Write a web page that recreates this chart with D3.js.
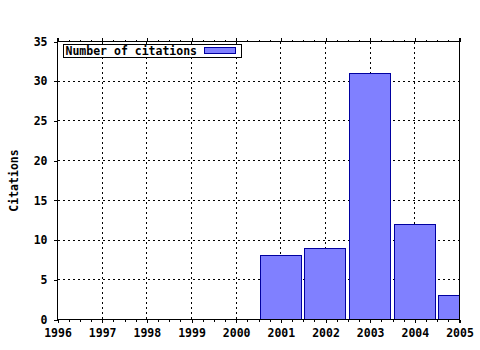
<!DOCTYPE html>
<html>
<head>
<meta charset="utf-8">
<script src="https://cdn.jsdelivr.net/npm/d3@7"></script>
<style>
body { margin: 0; background: #fff; }
text { font-family: "DejaVu Sans Mono", monospace; font-weight: bold; font-size: 11.5px; }
</style>
</head>
<body>
<div id="my_dataviz"></div>
<script>
var years = [2001, 2002, 2003, 2004, 2005];
var citations = [8, 9, 31, 12, 3];
var xTicks = [1996, 1997, 1998, 1999, 2000, 2001, 2002, 2003, 2004, 2005];
var yTicks = [0, 5, 10, 15, 20, 25, 30, 35];
var seriesName = 'Number of citations';

var margin = {top: 42, right: 21, bottom: 30, left: 57 },
width = 480 - margin.left - margin.right,
height = 350 - margin.top - margin.bottom;

var svg = d3.select('#my_dataviz')
.append('svg')
.attr('width', 480)
.attr('height', 350)
.style('shape-rendering', 'crispEdges')
.append('g')
.attr('transform', 'translate(' + (margin.left + 0.5) + ',' + (margin.top - 0.5) + ')');

var x = d3.scaleLinear()
.domain([1996, 2005])
.range([0, width]);

var y = d3.scaleLinear()
.domain([0, 35])
.range([height, 0]);

// grid
svg.append('g')
.selectAll('line')
.data(xTicks.slice(1, -1))
.enter()
.append('line')
.attr('x1', function(d) {return Math.round(x(d))})
.attr('x2', function(d) {return Math.round(x(d))})
.attr('y1', 0)
.attr('y2', height)
.style('stroke', '#000')
.style('stroke-dasharray', '2,3');

svg.append('g')
.selectAll('line')
.data(yTicks.slice(1, -1))
.enter()
.append('line')
.attr('x1', 0)
.attr('x2', width)
.attr('y1', function(d) {return Math.round(y(d))})
.attr('y2', function(d) {return Math.round(y(d))})
.style('stroke', '#000')
.style('stroke-dasharray', '2,3');

// bars
svg.append('clipPath')
.attr('id', 'plotclip')
.append('rect')
.attr('x', 0)
.attr('y', 0)
.attr('width', width)
.attr('height', height);

var bw = x(1996.92) - x(1996);
svg.append('g')
.attr('clip-path', 'url(#plotclip)')
.selectAll('rect')
.data(years)
.enter()
.append('rect')
.attr('x', function(d) {return Math.round(x(d) - bw / 2)})
.attr('y', function(d, i) {return Math.round(y(citations[i]))})
.attr('width', Math.round(bw))
.attr('height', function(d, i) {return Math.round(height - y(citations[i]))})
.style('fill', '#8080ff')
.style('stroke', '#0000a0');

// frame
svg.append('line')
.attr('x1', 0).attr('x2', width)
.attr('y1', 0).attr('y2', 0)
.style('stroke', '#000');
svg.append('line')
.attr('x1', 0).attr('x2', width)
.attr('y1', height).attr('y2', height)
.style('stroke', '#000');
svg.append('line')
.attr('x1', 0).attr('x2', 0)
.attr('y1', -4).attr('y2', height)
.style('stroke', '#000');
svg.append('line')
.attr('x1', width).attr('x2', width)
.attr('y1', -4).attr('y2', height + 3)
.style('stroke', '#000');

// axes
var minor = d3.range(1996, 2005.01, 0.25).filter(function(d) {return d % 1 != 0});
svg.append('g')
.attr('transform', 'translate(0,' + height + ')')
.call(d3.axisBottom(x).tickValues(minor).tickSize(2).tickFormat(''))
.call(function(g) {g.select('.domain').remove()});

svg.append('g')
.call(d3.axisTop(x).tickValues(minor).tickSize(2).tickFormat(''))
.call(function(g) {g.select('.domain').remove()});

svg.append('g')
.call(d3.axisTop(x).tickValues(xTicks).tickSize(4).tickFormat(''))
.call(function(g) {g.select('.domain').remove()});

svg.append('g')
.attr('transform', 'translate(0,' + height + ')')
.call(d3.axisBottom(x).tickValues(xTicks).tickSize(3).tickPadding(6).tickFormat(d3.format('d')))
.call(function(g) {g.select('.domain').remove()})
.selectAll('text')
.style('fill', '#000');

svg.append('g')
.call(d3.axisLeft(y).tickValues(yTicks).tickSize(4).tickPadding(6))
.call(function(g) {g.select('.domain').remove()})
.selectAll('text')
.style('fill', '#000');

svg.selectAll('.tick line').style('stroke', '#000');
svg.selectAll('.tick text').style('font-family', '"DejaVu Sans Mono", monospace').style('font-size', '11.5px').style('font-weight', 'bold');

// y label
svg.append('text')
.attr('transform', 'translate(' + (-40) + ',' + (height / 2) + ') rotate(-90)')
.attr('text-anchor', 'middle')
.text('Citations');

// legend
var legend = svg.append('g')
.attr('transform', 'translate(6,3)');
legend.append('rect')
.attr('x', 0)
.attr('y', 0)
.attr('width', 178)
.attr('height', 13)
.style('fill', '#fff')
.style('stroke', '#000');
legend.append('text')
.attr('x', 2)
.attr('y', 10.5)
.text(seriesName);
legend.append('rect')
.attr('x', 141)
.attr('y', 3)
.attr('width', 31)
.attr('height', 6)
.style('fill', '#8080ff')
.style('stroke', '#0000a0');
</script>
</body>
</html>
